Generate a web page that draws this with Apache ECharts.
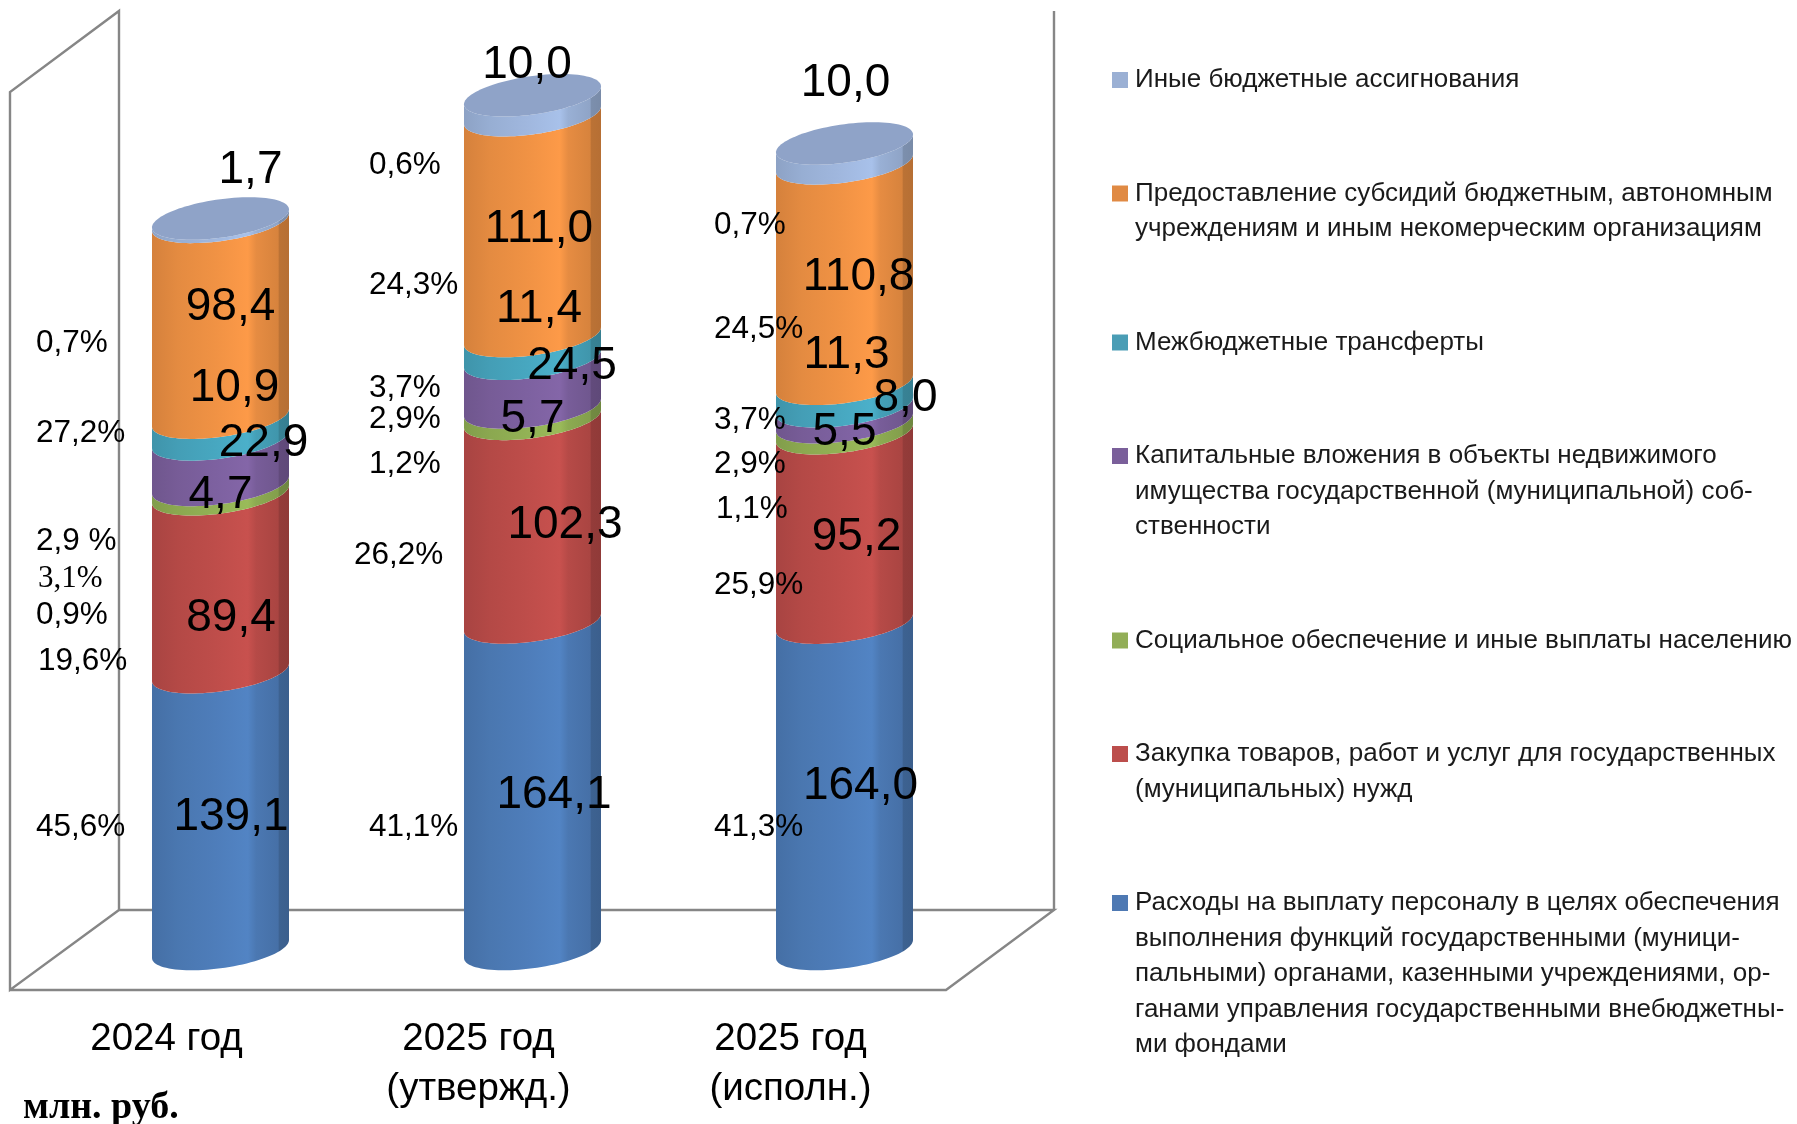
<!DOCTYPE html>
<html>
<head>
<meta charset="utf-8">
<title>Расходы</title>
<style>html,body{margin:0;padding:0;background:#fff}#main{width:1797px;height:1124px}</style>
<script src="https://cdn.jsdelivr.net/npm/echarts@6/dist/echarts.min.js"></script>
</head>
<body>
<div id="main"></div>
<script>
var categories = ['2024 год', '2025 год\n(утвержд.)', '2025 год\n(исполн.)'];

// снизу вверх, млн. руб.
var personnel = [139.1, 164.1, 164.0];
var purchases = [89.4, 102.3, 95.2];
var social = [4.7, 5.7, 5.5];
var capital = [22.9, 24.5, 8.0];
var transfers = [10.9, 11.4, 11.3];
var subsidies = [98.4, 111.0, 110.8];
var other = [1.7, 10.0, 10.0];

var pct2024 = ['0,7%', '27,2%', '2,9 %', '3,1%', '0,9%', '19,6%', '45,6%'];
var pct2025plan = ['0,6%', '24,3%', '3,7%', '2,9%', '1,2%', '26,2%', '41,1%'];
var pct2025fact = ['0,7%', '24,5%', '3,7%', '2,9%', '1,1%', '25,9%', '41,3%'];

var legendPersonnel = ['Расходы на выплату персоналу в целях обеспечения', 'выполнения функций государственными (муници-', 'пальными) органами, казенными учреждениями, ор-', 'ганами управления государственными внебюджетны-', 'ми фондами'];
var legendPurchases = ['Закупка товаров, работ и услуг для государственных', '(муниципальных) нужд'];
var legendSocial = ['Социальное обеспечение и иные выплаты населению'];
var legendCapital = ['Капитальные вложения в объекты недвижимого', 'имущества государственной (муниципальной) соб-', 'ственности'];
var legendTransfers = ['Межбюджетные трансферты'];
var legendSubsidies = ['Предоставление субсидий бюджетным, автономным', 'учреждениям и иным некомерческим организациям'];
var legendOther = ['Иные бюджетные ассигнования'];

var layers = [
	{ values: personnel, lines: legendPersonnel, color: '#5284C4', mark: '#4E79B3', dx: [10.5, 21.5, 16], dy: [7, 10, 0] },
	{ values: purchases, lines: legendPurchases, color: '#C8514E', mark: '#BC4E4C', dx: [10.5, 32.5, 12], dy: [35, 5, 9] },
	{ values: social, lines: legendSocial, color: '#9ABB59', mark: '#92AE57', dx: [0, 0, 0], dy: [6, 6, 5] },
	{ values: capital, lines: legendCapital, color: '#8466A8', mark: '#7A5F9A', dx: [43, 39.5, 61], dy: [-19, -17, -16] },
	{ values: transfers, lines: legendTransfers, color: '#4BB0CA', mark: '#4A9DB5', dx: [14, 6.5, 2], dy: [-40, -38, -40] },
	{ values: subsidies, lines: legendSubsidies, color: '#FD9A48', mark: '#E08A44', dx: [10, 6.5, 14], dy: [-12, 4, 4] },
	{ values: other, lines: legendOther, color: '#A8C1EA', mark: '#9BB0D4', dx: [30, -5.5, 1], dy: [-50, -40, -70] }
];

var SANS = '"Liberation Sans", Arial, sans-serif';
var SERIF = '"Liberation Serif", "Times New Roman", serif';
var RX = 68.5, RY = 19.3, TILT = -0.131;

function shade(hex, k) {
	var n = parseInt(hex.slice(1), 16);
	var r = Math.round((n >> 16) * k), g = Math.round(((n >> 8) & 255) * k), b = Math.round((n & 255) * k);
	return 'rgb(' + r + ',' + g + ',' + b + ')';
}

function sideFill(color) {
	var stops = [[0, .84], [.19, .9], [.46, .95], [.7, 1], [.76, .91], [.92, .85], [.93, .74], [1, .72]];
	return new echarts.graphic.LinearGradient(0, 0, 1, 0, stops.map(function (s) {
		return { offset: s[0], color: shade(color, s[1]) };
	}));
}

function frontArc(cx, cy, reverse) {
	var pts = [];
	for (var i = 0; i <= 48; i++) {
		var t = Math.PI * (reverse ? i : 48 - i) / 48;
		pts.push([cx + RX * Math.cos(t), cy + TILT * RX * Math.cos(t) + RY * Math.sin(t)]);
	}
	return pts;
}

function fullEllipse(cx, cy) {
	var pts = [];
	for (var i = 0; i < 96; i++) {
		var t = Math.PI * 2 * i / 96;
		pts.push([cx + RX * Math.cos(t), cy + TILT * RX * Math.cos(t) + RY * Math.sin(t)]);
	}
	return pts;
}

function makeSeries(layer, idx) {
	var data = [];
	for (var c = 0; c < categories.length; c++) {
		var base = 0;
		for (var k = 0; k < idx; k++) {
			base += layers[k].values[c];
		}
		data.push([c, base, base + layer.values[c], layer.values[c]]);
	}
	return {
		name: layer.lines.join(' '),
		type: 'custom',
		itemStyle: { color: layer.mark },
		encode: { x: 0, y: [1, 2] },
		data: data,
		silent: true,
		renderItem: function (params, api) {
			var c = api.value(0);
			var p0 = api.coord([c, api.value(1)]);
			var p1 = api.coord([c, api.value(2)]);
			var lower = frontArc(p0[0], p0[1], true);
			var upper = frontArc(p1[0], p1[1], false);
			var children = [{
				type: 'polygon',
				shape: { points: upper.concat(lower) },
				style: { fill: sideFill(layer.color) }
			}];
			if (idx === layers.length - 1) {
				children.push({
					type: 'polygon',
					shape: { points: fullEllipse(p1[0], p1[1]) },
					style: { fill: '#8FA3C8' }
				});
			}
			children.push({
				type: 'text',
				z2: 100,
				x: p0[0] + layer.dx[c],
				y: (p0[1] + p1[1]) / 2 + layer.dy[c],
				style: {
					text: api.value(3).toFixed(1).replace('.', ','),
					font: '46px ' + SANS,
					fill: '#000',
					align: 'center',
					verticalAlign: 'middle'
				}
			});
			return { type: 'group', children: children };
		}
	};
}

function frameLine(points) {
	return {
		type: 'polyline',
		shape: { points: points },
		style: { stroke: '#868686', lineWidth: 2.4, fill: null }
	};
}

function pctText(text, x, y, serif) {
	return {
		type: 'text',
		z: 10,
		x: x,
		y: y,
		style: {
			text: text,
			font: serif ? '31px ' + SERIF : '31.5px ' + SANS,
			fill: '#000',
			verticalAlign: 'middle'
		}
	};
}

var pctX = [
	[36, 36, 36, 38, 36, 38, 36],
	[369, 369, 369, 369, 369, 354, 369],
	[714, 714, 714, 714, 716, 714, 714]
];
var pctY = [
	[343, 433, 541, 579, 615, 661, 827],
	[165, 285, 388, 419, 464, 555, 827],
	[225, 329, 420, 464, 509, 585, 827]
];

var graphics = [
	frameLine([[119, 910], [119, 11], [10, 92], [10, 990], [119, 910], [1054, 910], [946, 990], [10, 990]]),
	frameLine([[1054, 11], [1054, 910]]),
	{
		type: 'text',
		x: 23,
		y: 1108,
		style: {
			text: 'млн. руб.',
			font: 'bold 38px ' + SERIF,
			fill: '#000',
			verticalAlign: 'middle'
		}
	}
];
[pct2024, pct2025plan, pct2025fact].forEach(function (list, c) {
	list.forEach(function (text, i) {
		graphics.push(pctText(text, pctX[c][i], pctY[c][i], c === 0 && i === 3));
	});
});

var legendRich = {
	t: { fontFamily: SANS, fontSize: 26, lineHeight: 35.5, color: '#1a1a1a' },
	i: { width: 16 },
	g: { width: 7 }
};
var legendText = {};
layers.forEach(function (layer, idx) {
	legendRich['m' + idx] = { width: 16, height: 16, backgroundColor: layer.mark };
	legendText[layer.lines.join(' ')] = layer.lines.map(function (line, n) {
		return (n === 0 ? '{m' + idx + '|}' : '{i|}') + '{g|}{t|' + line + '}';
	}).join('\n');
});

var chart = echarts.init(document.getElementById('main'));
chart.setOption({
	animation: false,
	backgroundColor: '#fff',
	graphic: { elements: graphics },
	grid: { left: 64.5, top: 53.5, width: 936, height: 895.5, outerBoundsMode: 'none' },
	xAxis: {
		type: 'category',
		data: categories,
		axisLine: { show: false },
		axisTick: { show: false },
		axisLabel: {
			margin: 65,
			padding: [0, 108, 0, 0],
			fontFamily: SANS,
			fontSize: 38.5,
			lineHeight: 50,
			color: '#000',
			verticalAlign: 'top',
			interval: 0
		}
	},
	yAxis: { type: 'value', min: 0, max: 450, show: false, splitLine: { show: false } },
	legend: {
		orient: 'vertical',
		left: 1107,
		top: 67,
		height: 2000,
		padding: 0,
		itemGap: 87.5,
		itemWidth: 0,
		itemHeight: 0,
		itemStyle: { opacity: 0 },
		selectedMode: false,
		align: 'left',
		data: layers.map(function (l) { return l.lines.join(' '); }).reverse(),
		formatter: function (name) { return legendText[name]; },
		textStyle: { rich: legendRich }
	},
	series: layers.map(makeSeries)
});
</script>
</body>
</html>
